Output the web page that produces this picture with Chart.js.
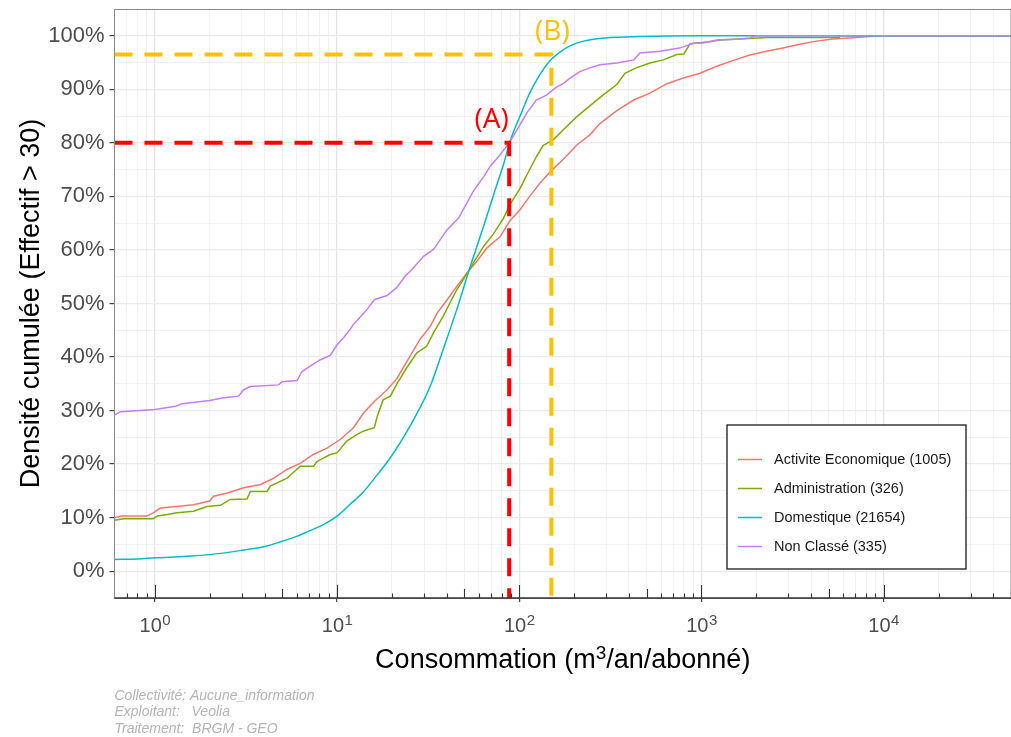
<!DOCTYPE html>
<html>
<head>
<meta charset="utf-8">
<title>Densité cumulée des consommations</title>
<script src="https://cdn.jsdelivr.net/npm/chart.js@4.4.1/dist/chart.umd.min.js"></script>
<style>
  html, body { margin: 0; padding: 0; background: #ffffff; }
  #wrap { width: 1011px; height: 737px; }
</style>
</head>
<body>
<div id="wrap"><canvas id="ecdf" width="1011" height="737"></canvas></div>
<script>
// ---- Series: consumption (m3/an/abonné) and cumulative share (%) ----
const seriesLabels = ['Activite Economique (1005)', 'Administration (326)', 'Domestique (21654)', 'Non Classé (335)'];

const ecoX = [0.6, 0.65, 0.9, 0.98, 1.07, 1.32, 1.63, 2.0, 2.1, 2.5, 3.07, 3.8, 4.5, 5.3, 6.3, 7.4, 8.8, 10.4, 12.3, 14.0, 16.0, 18.8, 21.3, 25.2, 28.5, 32.4, 35.4, 40.2, 45.4, 51.6, 58.5, 66.5, 78.6, 89, 101, 114, 130, 147, 175, 207, 244, 277, 343, 425, 521, 642, 795, 982, 1210, 1500, 1840, 2270, 2800, 3460, 4260, 5250, 6480, 8000, 10000, 50000];
const ecoY = [10.0, 10.3, 10.3, 10.9, 11.8, 12.1, 12.4, 13.1, 14.0, 14.6, 15.6, 16.2, 17.4, 19.0, 20.2, 21.8, 23.0, 24.6, 26.8, 29.6, 31.7, 33.9, 36.0, 40.2, 43.3, 45.7, 48.2, 50.7, 53.2, 55.7, 57.9, 60.4, 62.5, 65.5, 67.5, 70.0, 72.5, 74.5, 77.0, 79.6, 81.5, 83.6, 86.0, 88.0, 89.3, 91.0, 92.1, 93.0, 94.3, 95.4, 96.4, 97.1, 97.7, 98.4, 99.0, 99.4, 99.6, 99.8, 100, 100];

const admX = [0.6, 0.675, 0.98, 1.03, 1.17, 1.32, 1.63, 1.93, 2.29, 2.59, 3.2, 3.34, 4.13, 4.3, 5.31, 6.28, 7.43, 7.75, 9.17, 10.0, 11.3, 12.8, 14.0, 16.0, 16.6, 17.9, 19.6, 21.3, 24.1, 27.4, 31.0, 33.8, 38.2, 41.6, 45.4, 49.4, 56.0, 63.8, 72.2, 81.8, 89, 101, 110, 124.5, 135, 154, 175, 207, 244, 290, 343, 380, 438, 521, 617, 732, 800, 866, 1110, 1260, 1630, 2300, 5700, 5800, 50000];
const admY = [9.5, 9.8, 9.8, 10.3, 10.6, 10.9, 11.2, 12.1, 12.3, 13.4, 13.5, 14.9, 14.9, 15.9, 17.4, 19.6, 19.6, 20.5, 21.8, 22.1, 24.3, 25.5, 26.2, 26.8, 28.9, 32.0, 32.7, 35.0, 38.0, 40.8, 42.0, 44.5, 47.6, 50.1, 52.6, 54.5, 57.6, 60.7, 63.0, 65.9, 68.5, 71.5, 74.0, 77.5, 79.5, 80.6, 82.5, 84.9, 86.9, 89.0, 90.9, 93.0, 94.0, 94.9, 95.5, 96.5, 96.6, 98.5, 98.9, 99.2, 99.4, 99.7, 99.7, 100, 100];

const domX = [0.6, 0.8, 1, 1.5, 2, 3, 4, 5, 6, 7, 8.4, 10, 11.8, 14, 16.6, 19.6, 22.2, 26.3, 32.4, 38.2, 45.4, 53.8, 63.8, 75, 82, 89, 101, 114, 129, 147, 168, 190, 225, 277, 425, 640, 1000, 50000];
const domY = [2.2, 2.3, 2.5, 2.8, 3.1, 3.9, 4.6, 5.6, 6.5, 7.5, 8.7, 10.3, 12.5, 14.9, 18.0, 21.2, 24.0, 28.3, 34.5, 41.4, 48.9, 56.9, 64.5, 72.0, 76.0, 80.3, 85.0, 89.3, 92.6, 95.3, 97.0, 98.1, 99.0, 99.5, 99.8, 99.95, 100, 100];

const nclX = [0.6, 0.65, 1.0, 1.3, 1.41, 1.7, 2.0, 2.38, 2.88, 3.07, 3.34, 4.77, 5.0, 6.03, 6.42, 7.11, 8.09, 9.17, 10.0, 10.85, 11.8, 12.3, 14.6, 16.0, 18.8, 21.3, 23.6, 25.7, 29.8, 33.8, 40.2, 46.5, 51.6, 56, 63.8, 69.5, 78.6, 89.1, 101, 110, 124, 141, 160, 175, 190, 215, 244, 277, 343, 425, 459, 592, 759, 900, 1040, 1210, 1620, 1840, 2000, 50000];
const nclY = [29.2, 29.8, 30.2, 30.8, 31.3, 31.6, 31.9, 32.4, 32.7, 33.9, 34.5, 34.8, 35.4, 35.6, 37.3, 38.3, 39.5, 40.3, 42.3, 43.6, 45.2, 46.1, 48.9, 50.7, 51.5, 53.0, 55.1, 56.3, 58.8, 60.1, 63.8, 66.0, 68.8, 71.0, 73.7, 75.7, 77.8, 80.3, 83.4, 85.6, 88.0, 88.9, 90.4, 91.1, 92.1, 93.3, 94.0, 94.6, 94.9, 95.5, 96.8, 97.1, 97.7, 98.6, 98.7, 99.2, 99.4, 99.6, 100, 100];

// Reading guides: (A) 80 % of domestic users below ~88 m3, (B) ~96.5 % below 150 m3
const guideA = { conso: 88, part: 80 };
const guideB = { conso: 150, part: 96.5 };

// Axis limits and tick labels
const xLimits = [0.6, 50000];
const yLimits = [-5, 105];
const decadeExponents = [0, 1, 2, 3, 4];
const captionLines = ['Collectivité: Aucune_information', 'Exploitant:   Veolia', 'Traitement:  BRGM - GEO'];

// ---- Styling ----
const seriesColors = ['#F8766D', '#7CAE00', '#00BFC4', '#C77CFF'];
const FONT = "'Liberation Sans', Arial, sans-serif";
Chart.defaults.font.family = FONT;

const zip = (xs, ys) => xs.map((x, i) => ({ x, y: ys[i] }));
const isDecade = v => Math.abs(Math.log10(v) - Math.round(Math.log10(v))) < 1e-9;
const mantissa = v => Math.round(v / Math.pow(10, Math.floor(Math.log10(v) + 1e-9)));

const curves = [
  { data: zip(ecoX, ecoY), order: 5 },
  { data: zip(admX, admY), order: 4 },
  { data: zip(domX, domY), order: 3, cubicInterpolationMode: 'monotone' },
  { data: zip(nclX, nclY), order: 2 }
].map((d, i) => Object.assign({
  label: seriesLabels[i],
  borderColor: seriesColors[i],
  backgroundColor: seriesColors[i],
  borderWidth: 1.5,
  pointRadius: 0,
  fill: false,
  tension: 0
}, d));

const guide = (g, color) => ({
  label: '',
  data: [{ x: xLimits[0], y: g.part }, { x: g.conso, y: g.part }, { x: g.conso, y: yLimits[0] }],
  borderColor: color,
  borderWidth: 4,
  borderDash: [18, 12],
  pointRadius: 0,
  fill: false,
  order: 1
});

// Panel border, log ticks, guide labels, x tick labels, x title and legend
const decorations = {
  id: 'decorations',
  afterDatasetsDraw(chart) {
    const { ctx, chartArea: a, scales: { x, y } } = chart;
    ctx.save();
    ctx.strokeStyle = '#8a8a8a';
    ctx.lineWidth = 1;
    ctx.strokeRect(a.left, Math.round(a.top) + 0.5, a.right - a.left, a.bottom - a.top);

    // log ticks along the bottom of the panel
    ctx.strokeStyle = '#333333';
    ctx.lineWidth = 1.1;
    ctx.beginPath();
    for (const t of x.ticks) {
      const m = mantissa(t.value);
      const len = m === 1 ? 13 : (m === 5 ? 9 : 4.5);
      const px = Math.round(x.getPixelForValue(t.value)) + 0.5;
      if (px <= a.left + 1) continue;
      ctx.moveTo(px, a.bottom);
      ctx.lineTo(px, a.bottom - len);
    }
    ctx.stroke();
    ctx.lineWidth = 1.4;
    ctx.beginPath();
    ctx.moveTo(a.left, a.bottom);
    ctx.lineTo(a.right, a.bottom);
    ctx.stroke();

    // guide labels
    ctx.textAlign = 'center';
    ctx.textBaseline = 'alphabetic';
    ctx.font = "28px 'Open Sans', sans-serif";
    ctx.fillStyle = '#FF0000';
    ctx.fillText('(A)', x.getPixelForValue(guideA.conso) - 17.5, y.getPixelForValue(guideA.part) - 15);
    ctx.fillStyle = '#FFC000';
    ctx.fillText('(B)', x.getPixelForValue(guideB.conso) + 1, y.getPixelForValue(guideB.part) - 15);
    ctx.restore();
  },
  afterDraw(chart) {
    const { ctx, chartArea: a, scales: { x } } = chart;
    ctx.save();
    ctx.textBaseline = 'alphabetic';
    ctx.textAlign = 'left';

    // x tick labels: 10 with a raised exponent
    ctx.fillStyle = '#4D4D4D';
    for (const e of decadeExponents) {
      const px = x.getPixelForValue(Math.pow(10, e));
      ctx.font = '20px ' + FONT;
      const w1 = ctx.measureText('10').width;
      ctx.font = '15px ' + FONT;
      const w2 = ctx.measureText(String(e)).width;
      const x0 = px - (w1 + w2) / 2;
      ctx.font = '20px ' + FONT;
      ctx.fillText('10', x0, a.bottom + 33.5);
      ctx.font = '15px ' + FONT;
      ctx.fillText(String(e), x0 + w1 + 0.5, a.bottom + 26.5);
    }

    // x axis title with superscript
    ctx.fillStyle = '#000000';
    const parts = [['Consommation (m', 27, 0], ['3', 19, -8.5], ['/an/abonné)', 27, 0]];
    let total = 0;
    for (const p of parts) { ctx.font = p[1] + 'px ' + FONT; p.push(ctx.measureText(p[0]).width); total += p[3]; }
    let cx = (a.left + a.right) / 2 - total / 2;
    for (const p of parts) {
      ctx.font = p[1] + 'px ' + FONT;
      ctx.fillText(p[0], cx, a.bottom + 69.5 + p[2]);
      cx += p[3];
    }

    // legend
    const box = { left: 727, top: 425, width: 239, height: 144 };
    ctx.fillStyle = '#ffffff';
    ctx.fillRect(box.left, box.top, box.width, box.height);
    ctx.strokeStyle = '#1a1a1a';
    ctx.lineWidth = 1.3;
    ctx.strokeRect(box.left, box.top, box.width, box.height);
    ctx.font = '14.5px ' + FONT;
    ctx.textBaseline = 'middle';
    seriesLabels.forEach((lab, i) => {
      const ry = box.top + 34.5 + i * 29;
      ctx.strokeStyle = seriesColors[i];
      ctx.lineWidth = 1.5;
      ctx.beginPath();
      ctx.moveTo(box.left + 11, ry);
      ctx.lineTo(box.left + 35, ry);
      ctx.stroke();
      ctx.fillStyle = '#1a1a1a';
      ctx.fillText(lab, box.left + 47, ry + 0.5);
    });
    ctx.restore();
  }
};

new Chart(document.getElementById('ecdf'), {
  type: 'line',
  data: { datasets: [...curves, guide(guideA, '#FF0000'), guide(guideB, '#FFC000')] },
  plugins: [decorations],
  options: {
    responsive: false,
    animation: false,
    devicePixelRatio: 1,
    events: [],
    layout: { padding: { top: 9, left: 0, right: 0, bottom: 0 } },
    plugins: {
      legend: { display: false },
      tooltip: { enabled: false },
      title: { display: false },
      subtitle: {
        display: true,
        position: 'bottom',
        align: 'start',
        fullSize: false,
        text: captionLines,
        color: '#b4b4b4',
        font: { size: 14, style: 'italic', lineHeight: '16.5px' },
        padding: { top: 4, bottom: 0 }
      }
    },
    scales: {
      x: {
        type: 'logarithmic',
        min: xLimits[0],
        max: xLimits[1],
        afterBuildTicks(scale) {
          const t = [];
          for (let e = -1; e <= 4; e++) {
            for (let m = 1; m <= 9; m++) {
              const v = +(m * Math.pow(10, e)).toPrecision(3);
              if (v >= xLimits[0] && v <= xLimits[1]) t.push({ value: v });
            }
          }
          scale.ticks = t;
        },
        afterFit(scale) {
          scale.height = 85.5;
          scale.paddingLeft = 0;
          scale.paddingRight = 0;
        },
        ticks: { display: false, autoSkip: false },
        border: { display: false },
        grid: {
          color: c => isDecade(c.tick.value) ? '#e4e4e4' : '#eeeeee',
          lineWidth: c => isDecade(c.tick.value) ? 1.3 : 0.8,
          drawTicks: true,
          tickLength: 4,
          tickColor: c => isDecade(c.tick.value) ? '#333333' : 'rgba(0,0,0,0)',
          tickWidth: 1.1
        }
      },
      y: {
        type: 'linear',
        min: yLimits[0],
        max: yLimits[1],
        afterFit(scale) {
          scale.width = 114.5;
          scale.paddingTop = 0;
          scale.paddingBottom = 0;
        },
        ticks: {
          stepSize: 5,
          autoSkip: false,
          padding: 5,
          color: '#4D4D4D',
          font: { size: 22 },
          callback: v => (v % 10 === 0 && v >= 0 && v <= 100) ? v + '%' : ''
        },
        border: { display: false },
        grid: {
          color: c => '#ebebeb',
          lineWidth: c => (c.tick.value % 10 === 0) ? 1.3 : 0.7,
          drawTicks: true,
          tickLength: 5,
          tickColor: c => (c.tick.value % 10 === 0 && c.tick.value >= 0 && c.tick.value <= 100) ? '#333333' : 'rgba(0,0,0,0)',
          tickWidth: 1.1
        },
        title: {
          display: true,
          text: 'Densité cumulée (Effectif > 30)',
          color: '#000000',
          font: { size: 27 },
          padding: { top: 15, bottom: 0 }
        }
      }
    }
  }
});
</script>
</body>
</html>
